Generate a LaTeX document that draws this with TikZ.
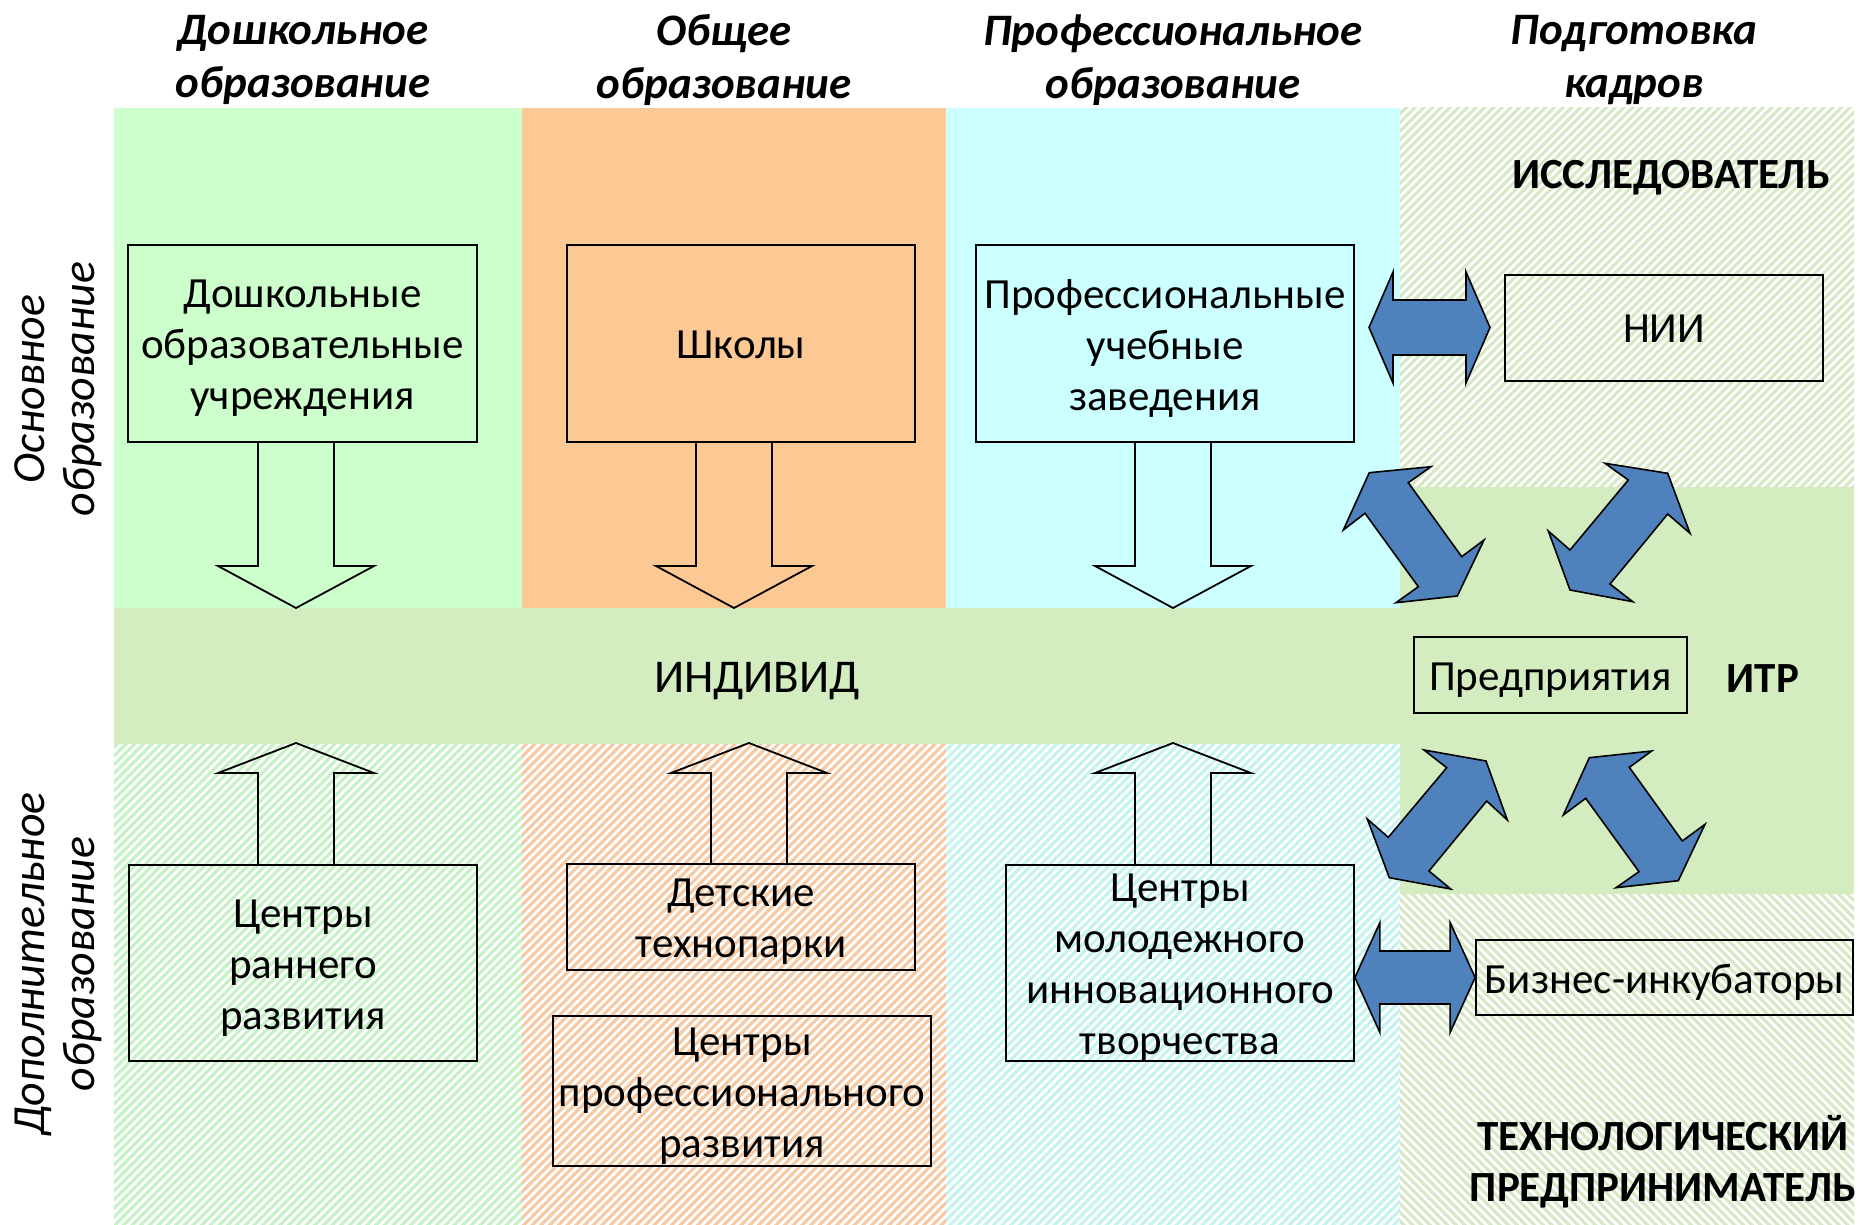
\documentclass[tikz,border=0pt]{standalone}
\usepackage{fontspec}
\setmainfont{Carlito}
\usetikzlibrary{calc}
\definecolor{cgreen}{HTML}{CCFFCC}
\definecolor{corange}{HTML}{FCC995}
\definecolor{ccyan}{HTML}{CCFFFF}
\definecolor{cband}{HTML}{D3EDC1}
\definecolor{hgreen}{HTML}{C4F2C4}
\definecolor{horange}{HTML}{F6C9A2}
\definecolor{hcyan}{HTML}{C4F4F0}
\definecolor{holive}{HTML}{D6E8C4}
\definecolor{cblue}{HTML}{4F81BD}
\newcommand{\hatchNE}[5]{%
  \begin{scope}
    \clip (#1,#2) rectangle (#3,#4);
    \fill[white] (#1,#2) rectangle (#3,#4);
    \foreach \c in {0,8.7,...,3100}{\draw[#5,line width=3.1pt] (\c,0) -- ++(-1300,1300);}
  \end{scope}}
\newcommand{\hatchNW}[5]{%
  \begin{scope}
    \clip (#1,#2) rectangle (#3,#4);
    \fill[white] (#1,#2) rectangle (#3,#4);
    \foreach \c in {-1300,-1291.3,...,1900}{\draw[#5,line width=3.1pt] (\c,0) -- ++(1300,1300);}
  \end{scope}}
\newcommand{\downblk}[4]{%
  \draw[blk] ({#1-38},#2) -- ({#1-38},#3) -- ({#1-78},#3) -- (#1,#4) -- ({#1+78},#3) -- ({#1+38},#3) -- ({#1+38},#2);}
\tikzset{
  box/.style={draw=black, line width=1.8pt, inner sep=0pt},
  txt/.style={inner sep=0pt, align=center, yshift=-5pt, font=\fontsize{43}{51}\selectfont},
  hdr/.style={inner sep=0pt, align=center, font=\fontsize{45}{53}\selectfont\bfseries\itshape},
  rot/.style={inner sep=0pt, align=center, rotate=90, font=\fontsize{46}{50}\selectfont\itshape},
  bold/.style={inner sep=0pt, align=center, yshift=-2pt, font=\fontsize{43}{51}\selectfont\bfseries},
  blk/.style={draw=black, line width=1.8pt, line join=miter},
  barrow/.style={fill=cblue, draw=black, line width=1.6pt, line join=miter},
}
\begin{document}
\begin{tikzpicture}[x=1pt,y=-1pt]
\useasboundingbox (0,0) rectangle (1861,1225);
\fill[white] (0,0) rectangle (1861,1225);
% solid backgrounds
\fill[cgreen] (114,108) rectangle (522,608);
\fill[corange] (522,108) rectangle (946,608);
\fill[ccyan] (946,108) rectangle (1400,608);
\fill[cband] (114,608) rectangle (1854,744);
\fill[cband] (1400,487) rectangle (1854,894);
% hatched backgrounds
\hatchNE{114}{744}{522}{1225}{hgreen}
\hatchNE{522}{744}{946}{1225}{horange}
\hatchNE{946}{744}{1400}{1225}{hcyan}
\hatchNE{1400}{108}{1854}{487}{holive}
\hatchNW{1400}{894}{1854}{1225}{holive}
% headers
\node[hdr] (h1) at (303,60) {Дошкольное\\образование};
\node[hdr] (h2) at (724,60) {Общее\\образование};
\node[hdr] (h3) at (1173,60) {Профессиональное\\образование};
\node[hdr] (h4) at (1634,60) {Подготовка\\кадров};
\node[rot] (r1) at (58,389) {Основное\\образование};
\node[rot] (r2) at (58,964) {Дополнительное\\образование};
% boxes
\node[box, minimum width=349pt, minimum height=197pt, label={[txt]center:Дошкольные\\образовательные\\учреждения}] (b1) at (302.5,343.5) {};
\node[box, fill=corange, minimum width=348pt, minimum height=197pt, label={[txt,yshift=4pt]center:Школы}] (b2) at (741,343.5) {};
\node[box, minimum width=378pt, minimum height=197pt, label={[txt]center:Профессиональные\\учебные\\заведения}] (b3) at (1165,343.5) {};
\node[box, minimum width=318pt, minimum height=106pt, label={[txt,yshift=4pt]center:НИИ}] (nii) at (1664,328) {};
\node[box, minimum width=273pt, minimum height=76pt, label={[txt]center:Предприятия}] (pred) at (1550.5,675) {};
\node[box, minimum width=348pt, minimum height=196pt, label={[txt]center:Центры\\раннего\\развития}] (b4) at (303,963) {};
\node[box, minimum width=348pt, minimum height=106pt, label={[txt]center:Детские\\технопарки}] (b5) at (741,917) {};
\node[box, minimum width=378pt, minimum height=150pt, label={[txt]center:Центры\\профессионального\\развития}] (b6) at (742,1091) {};
\node[box, minimum width=348pt, minimum height=196pt, label={[txt]center:Центры\\молодежного\\инновационного\\творчества}] (b7) at (1180,963) {};
\node[box, minimum width=377pt, minimum height=75pt, label={[txt]center:Бизнес-инкубаторы}] (biz) at (1664.5,977.5) {};
% labels
\node[txt, font=\fontsize{47}{51}\selectfont] (ind) at (757,676) {ИНДИВИД};
\node[bold] (res) at (1671,176) {ИССЛЕДОВАТЕЛЬ};
\node[bold] (itr) at (1763,677) {ИТР};
\node[bold] (tp) at (1663,1160) {ТЕХНОЛОГИЧЕСКИЙ\\ПРЕДПРИНИМАТЕЛЬ};
% white block arrows
\downblk{296}{442}{566}{608}
\downblk{734}{442}{566}{608}
\downblk{1173}{442}{566}{608}
\downblk{296}{865}{773}{743}
\downblk{749}{864}{773}{743}
\downblk{1173}{865}{773}{743}
% blue double arrows
\coordinate (ta) at (1369,327.5);
\coordinate (tb) at (1490,327.5);
\draw[barrow] (ta) -- ($(ta)+(24,-55.5)$) -- ($(ta)+(24,-27.5)$) -- ($(tb)+(-24,-27.5)$) -- ($(tb)+(-24,-55.5)$) -- (tb)
  -- ($(tb)+(-24,55.5)$) -- ($(tb)+(-24,27.5)$) -- ($(ta)+(24,27.5)$) -- ($(ta)+(24,55.5)$) -- cycle;
\coordinate (bb) at (biz.west);
\coordinate (ba) at (b7.east |- bb);
\draw[barrow] (ba) -- ($(ba)+(25,-55)$) -- ($(ba)+(25,-26.5)$) -- ($(bb)+(-25,-26.5)$) -- ($(bb)+(-25,-55)$) -- (bb)
  -- ($(bb)+(-25,55)$) -- ($(bb)+(-25,26.5)$) -- ($(ba)+(25,26.5)$) -- ($(ba)+(25,55)$) -- cycle;
\draw[barrow] (1369.3,472.7) -- (1431,466.7) -- (1408.3,482.7) -- (1461.7,556.7) -- (1484,540) -- (1457.3,596)
  -- (1396,602.7) -- (1418.3,586.7) -- (1365,513.3) -- (1343.3,530) -- cycle;
\draw[barrow] (1605,463.3) -- (1667.7,473.3) -- (1690,533.3) -- (1667.7,514) -- (1610,584) -- (1632.7,601.7)
  -- (1570,590) -- (1548.3,531) -- (1570,550) -- (1628.3,480) -- cycle;
\draw[barrow] (1424,750) -- (1486,761) -- (1507.3,820) -- (1486.7,801) -- (1429,871) -- (1450.7,889)
  -- (1389.3,877.7) -- (1367.3,819) -- (1388.3,837.3) -- (1446.7,767.7) -- cycle;
\draw[barrow] (1589.3,757.7) -- (1651.7,751) -- (1629.3,767.3) -- (1682.3,841) -- (1705,824.3) -- (1678.3,880.7)
  -- (1616,887.7) -- (1639,871.7) -- (1585.7,798.3) -- (1563.3,815) -- cycle;
\end{tikzpicture}
\end{document}
